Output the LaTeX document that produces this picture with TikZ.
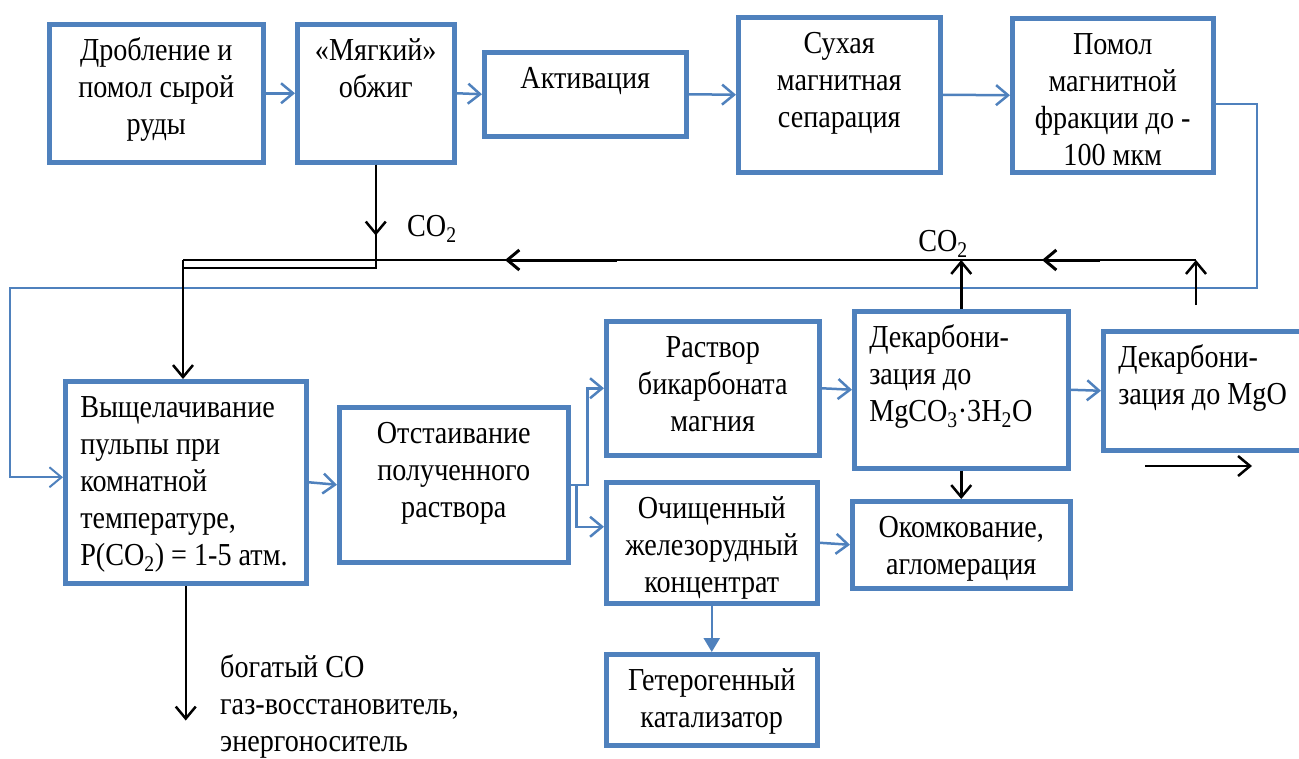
\documentclass[tikz,border=0pt]{standalone}
\usepackage{fontspec}
\setmainfont{Liberation Serif}[FakeStretch=0.88]
\usetikzlibrary{arrows.meta}
\definecolor{boxblue}{RGB}{79,129,189}

\begin{document}
\begin{tikzpicture}[
  x=1pt, y=-1pt,
  font=\fontsize{32}{37}\selectfont,
  blk/.style 2 args={draw=boxblue, line width=4.5pt, anchor=north west,
    inner xsep=8pt, inner ysep=0pt, text width=#1pt-16pt,
    text height=36pt, text depth=#2pt-36pt, align=flush center},
  lblk/.style 2 args={blk={#1}{#2}, align=flush left, inner xsep=15pt, text width=#1pt-30pt},
  lbl/.style={inner sep=0pt},
  flow/.style={draw=boxblue, line width=2.5pt, -{Straight Barb[length=12pt,width=20pt]}},
  fdbk/.style={flow, line width=2pt},
  flowtri/.style={draw=boxblue, line width=2.5pt, -{Triangle[length=14pt,width=16pt]}},
  gas/.style={draw=black, line width=2.5pt},
  gastip/.style={gas, -{Straight Barb[length=12pt,width=20pt]}},
]
\useasboundingbox (0,0) rectangle (1299,758);

% top row
\node[blk={214}{138}] (drob) at (47,22) {Дробление и\\ помол сырой\\ руды};
\node[blk={157}{138}] (myag) at (295,22) {«Мягкий»\\ обжиг};
\node[blk={202}{84}] (akt) at (482,50) {Активация};
\node[blk={202}{155}] (suh) at (736,15) {Сухая\\ магнитная\\ сепарация};
\node[blk={201}{154}] (pomol) at (1010,16) {Помол\\ магнитной\\ фракции до -\\ 100 мкм};

% lower part
\node[lblk={241}{202}] (vysh) at (63,379) {Выщелачивание\\ пульпы при\\ комнатной\\ температуре,\\ \mbox{P(CO\textsubscript{2}) = 1-5 атм.}};
\node[blk={229}{155}] (ots) at (337,405) {Отстаивание\\ полученного\\ раствора};
\node[blk={213}{134}] (rastvor) at (604,319) {Раствор\\ бикарбоната\\ магния};
\node[blk={211}{121}] (ochish) at (604,480) {Очищенный\\ железорудный\\ концентрат};
\node[lblk={214}{157}] (dekcarb) at (852,309) {Декарбони-\\ зация до\\ \mbox{MgCO\textsubscript{3}·3H\textsubscript{2}O}};
\node[lblk={220}{119}] (dekmgo) at (1101,329) {Декарбони-\\ \mbox{зация до MgO}};
\node[blk={218}{87}] (okom) at (850,499) {Окомкование,\\ агломерация};
\node[blk={211}{91}] (katal) at (604,652) {Гетерогенный\\ катализатор};

% labels
\node[lbl, anchor=base west] (co2a) at (407,236) {CO\textsubscript{2}};
\node[lbl, anchor=base] (co2b) at (943,251) {CO\textsubscript{2}};
\node[lbl, anchor=base west, text width=280pt, align=flush left] (gasout) at (220,677)
  {богатый CO\\ газ-восстановитель,\\ энергоноситель};

% main flow
\draw[flow] (drob.east) -- (myag.west);
\draw[flow] (myag.east) -- (akt.west);
\draw[flow] (akt.east) -- (suh.west);
\draw[flow] (suh.east) -- (pomol.west);
\draw[flow] (vysh.east) -- (ots.west);
\draw[flow] (ots.east) -- ++(17,0) |- (rastvor.west);
\draw[flow] ([xshift=6pt]ots.east) |- ([yshift=16pt]ochish.west);
\draw[flow] (rastvor.east) -- (dekcarb.west);
\draw[flow] (dekcarb.east) -- (dekmgo.west);
\draw[flow] (ochish.east) -- (okom.west);
\draw[flowtri] (ochish.south) -- (katal.north);

% return of the ground fraction
\coordinate (fbR) at (1257,288);
\coordinate (fbL) at (10,288);
\draw[fdbk] ([yshift=-9pt]pomol.east) -| (fbR) -- (fbL) |- ([yshift=5pt]vysh.west);

% CO2 lines
\coordinate (retR) at (1196,260);
\coordinate (retL) at (183,260);
\coordinate (jl) at (183,268);
\coordinate (mgoup) at (1196,305);
\draw[gas] (myag.south) -- (myag.south |- jl) -- (jl);
\draw[gastip] (myag.south) -- ++(0,71);
\draw[gas, line width=2pt] (retR) -- (retL);
\draw[gastip] (retL) -- (retL |- vysh.north);
\coordinate (mkA) at (617,260);
\coordinate (mkB) at (505,260);
\coordinate (mkC) at (1100,260);
\coordinate (mkD) at (1042,260);
\draw[gastip, line width=3pt] (mkA) -- (mkB);
\draw[gastip, line width=3pt] (mkC) -- (mkD);
\draw[gastip] (dekcarb.north) -- (dekcarb.north |- retR);
\draw[gastip] (mgoup) -- (retR);
\draw[gastip] (dekcarb.south) -- (okom.north);
\coordinate (outA) at (1145,466);
\coordinate (outB) at (1252,466);
\draw[gastip] (outA) -- (outB);
\draw[gastip] (vysh.south) -- ++(0,135);
\end{tikzpicture}
\end{document}
